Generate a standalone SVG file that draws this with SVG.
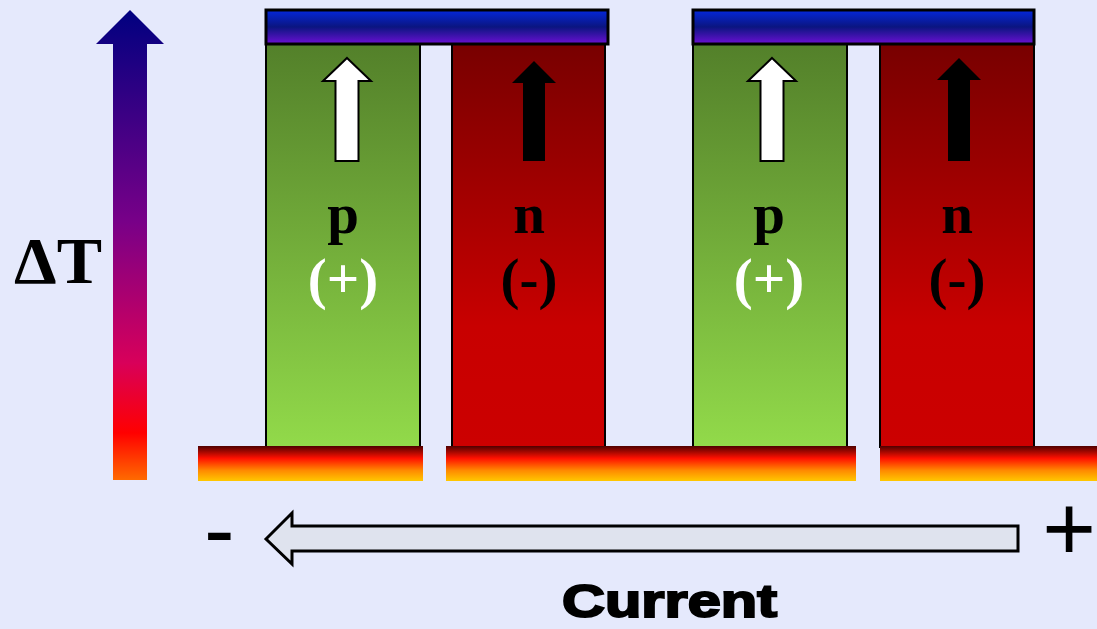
<svg xmlns="http://www.w3.org/2000/svg" width="1097" height="629" viewBox="0 0 1097 629">
<defs>
<linearGradient id="gT" x1="0" y1="0" x2="0" y2="1">
<stop offset="0" stop-color="#000080"/>
<stop offset="0.45" stop-color="#780088"/>
<stop offset="0.75" stop-color="#D8005A"/>
<stop offset="0.9" stop-color="#FF0000"/>
<stop offset="1" stop-color="#FF6A00"/>
</linearGradient>
<linearGradient id="gTop" x1="0" y1="0" x2="0" y2="1">
<stop offset="0" stop-color="#0428DC"/>
<stop offset="0.5" stop-color="#0B1580"/>
<stop offset="1" stop-color="#6C10D4"/>
</linearGradient>
<linearGradient id="gBot" x1="0" y1="0" x2="0" y2="1">
<stop offset="0" stop-color="#500000"/>
<stop offset="0.35" stop-color="#FF1000"/>
<stop offset="0.7" stop-color="#FF8A00"/>
<stop offset="1" stop-color="#FFC800"/>
</linearGradient>
<linearGradient id="gP" x1="0" y1="0" x2="0" y2="1">
<stop offset="0" stop-color="#53802A"/>
<stop offset="1" stop-color="#92DA4A"/>
</linearGradient>
<linearGradient id="gN" x1="0" y1="0" x2="0" y2="1">
<stop offset="0" stop-color="#780000"/>
<stop offset="0.7" stop-color="#C80000"/>
<stop offset="1" stop-color="#CC0000"/>
</linearGradient>
</defs>
<style>
.leg{stroke:#000;stroke-width:2}
.p{fill:url(#gP)}
.n{fill:url(#gN)}
.top{fill:url(#gTop);stroke:#000;stroke-width:3}
.bot{fill:url(#gBot)}
.wa{fill:#fff;stroke:#000;stroke-width:2}
.ba{fill:#000}
.lbl{font-family:"Liberation Serif",serif;font-weight:bold;font-size:57px;text-anchor:middle}
.sign{font-family:"Liberation Sans",sans-serif;font-size:92px}
</style>
<rect width="1097" height="629" fill="#E5E9FC"/>
<g id="deltaT">
<path d="M130,10 L164,44 L147,44 L147,480 L113,480 L113,44 L96,44 Z" fill="url(#gT)"/>
<text x="14" y="283" font-family="Liberation Serif,serif" font-weight="bold" font-size="66" textLength="88" lengthAdjust="spacingAndGlyphs">ΔT</text>
</g>
<g id="leg-p1">
<rect class="leg p" x="266" y="44" width="154" height="403"/>
<path class="wa" d="M347,58 L371,81 L358.5,81 L358.5,161 L335.5,161 L335.5,81 L323,81 Z"/>
<text class="lbl" x="343" y="233">p</text>
<text class="lbl" x="343" y="298" fill="#fff">(+)</text>
</g>
<g id="leg-n1">
<rect class="leg n" x="452" y="44" width="153" height="403"/>
<path class="ba" d="M534,61 L556,83 L545,83 L545,161 L523,161 L523,83 L512,83 Z"/>
<text class="lbl" x="529" y="233">n</text>
<text class="lbl" x="529" y="298">(-)</text>
</g>
<g id="leg-p2">
<rect class="leg p" x="693" y="44" width="154" height="403"/>
<path class="wa" d="M772,58 L796,81 L783.5,81 L783.5,161 L760.5,161 L760.5,81 L748,81 Z"/>
<text class="lbl" x="769" y="233">p</text>
<text class="lbl" x="769" y="298" fill="#fff">(+)</text>
</g>
<g id="leg-n2">
<rect class="leg n" x="880" y="44" width="154" height="403"/>
<path class="ba" d="M959,58 L981,80 L970,80 L970,161 L948,161 L948,80 L937,80 Z"/>
<text class="lbl" x="957" y="233">n</text>
<text class="lbl" x="957" y="298">(-)</text>
</g>
<g id="top-plate-1"><rect class="top" x="266" y="10" width="342" height="34"/></g>
<g id="top-plate-2"><rect class="top" x="693" y="10" width="341" height="34"/></g>
<g id="bottom-plates">
<rect class="bot" x="198" y="446" width="225" height="35"/>
<rect class="bot" x="446" y="446" width="410" height="35"/>
<rect class="bot" x="880" y="446" width="217" height="35"/>
</g>
<g id="connectors">
<path d="M266,539 L292,513 L292,526 L1018,526 L1018,551 L292,551 L292,564 Z" fill="#DFE3EE" stroke="#000" stroke-width="3" stroke-linejoin="miter"/>
</g>
<g id="current-labels">
<text class="sign" x="204" y="561">-</text>
<text class="sign" x="1096" y="560" text-anchor="end" font-size="90">+</text>
<text x="562" y="617" font-family="Liberation Sans,sans-serif" font-weight="bold" font-size="46" textLength="215" lengthAdjust="spacingAndGlyphs" stroke="#000" stroke-width="2">Current</text>
</g>
</svg>
